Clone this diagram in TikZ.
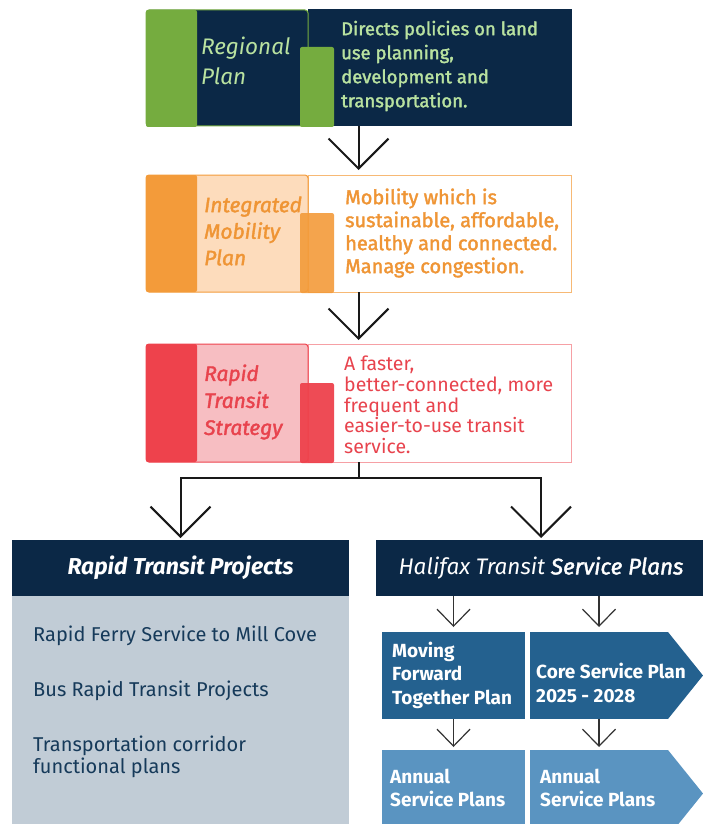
\documentclass[tikz,border=0pt]{standalone}
\usepackage{fontspec}
\setmainfont{Fira Sans}
\newfontfamily\semibold{Fira Sans}[FakeBold=1.8]
\usetikzlibrary{positioning,arrows.meta,calc}

\definecolor{navy}{HTML}{0B2846}
\definecolor{leaf}{HTML}{75AC3F}
\definecolor{leaftext}{HTML}{B9E2A0}
\definecolor{amber}{HTML}{F39B3A}
\definecolor{peach}{HTML}{FDDCBC}
\definecolor{ambertext}{HTML}{EF9535}
\definecolor{coral}{HTML}{EE424C}
\definecolor{blush}{HTML}{F7BEC2}
\definecolor{coraltext}{HTML}{E8434D}
\definecolor{slate}{HTML}{C1CCD6}
\definecolor{slatetext}{HTML}{163A5A}
\definecolor{midblue}{HTML}{24618F}
\definecolor{skyblue}{HTML}{5A94C1}

\begin{document}
\begin{tikzpicture}[x=1pt,y=-1pt,
    box/.style={inner sep=0pt, outer sep=0pt, anchor=north west},
    stripbox/.style={box, rounded corners=2pt, minimum width=51pt},
    labelbox/.style={box, rounded corners=3pt, line width=1pt, minimum width=162pt},
    descbox/.style={box, line width=1pt, minimum width=263pt},
    tabbox/.style={box, rounded corners=2pt, minimum width=34pt, minimum height=80pt},
    headbox/.style={box, fill=navy, minimum height=56pt, text=white},
    planbox/.style={box, minimum width=143pt, minimum height=87pt},
    bigarrow/.style={line width=2pt, draw=black!90, -{Straight Barb[length=30pt,width=60pt]}},
    smallarrow/.style={line width=1.2pt, draw=black!80, -{Straight Barb[length=17pt,width=33pt]}},
    desctext/.style={anchor=west, align=left, inner sep=0pt},
    labeltext/.style={anchor=west, align=left, inner sep=0pt},
    itemtext/.style={anchor=west, align=left, inner sep=0pt, text=slatetext,
        font=\fontsize{20}{22}\selectfont},
    plantext/.style={anchor=west, align=left, inner sep=0pt, text=white,
        font=\bfseries\fontsize{19}{23.5}\selectfont}]
    \useasboundingbox (0,0) rectangle (703,824);

    %Regional Plan
    \node[descbox, fill=navy, draw=navy, minimum height=116pt] (rpdesc) at (308,10) {};
    \node[labelbox, fill=navy, draw=leaf, minimum height=116pt] (rplabel) at (146,10) {};
    \node[stripbox, fill=leaf, minimum height=117pt] (rpstrip) at (146,10) {};
    \node[tabbox, fill=leaf] (rptab) at (300,47) {};
    \node[labeltext, text=leaftext, font=\itshape\fontsize{22.5}{30}\selectfont] (rptitle) at (201,61) {Regional\\Plan};
    \node[desctext, text=leaftext, font=\semibold\fontsize{18.5}{24}\selectfont] (rptext) at (341,66)
        {Directs policies on land\\use planning,\\development and\\transportation.};

    %Integrated Mobility Plan
    \node[descbox, fill=white, draw=amber!70, minimum height=117pt] (imdesc) at (308,175) {};
    \node[labelbox, fill=peach, draw=amber, minimum height=117pt] (imlabel) at (146,175) {};
    \node[stripbox, fill=amber, minimum height=117pt] (imstrip) at (146,175) {};
    \node[tabbox, fill=amber, opacity=0.9] (imtab) at (300,213) {};
    \node[labeltext, text=ambertext, font=\semibold\itshape\fontsize{21}{26.5}\selectfont] (imtitle) at (204,231)
        {Integrated\\Mobility\\Plan};
    \node[desctext, text=ambertext, font=\semibold\fontsize{20}{23}\selectfont] (imtext) at (345,233)
        {Mobility which is\\sustainable, affordable,\\healthy and connected.\\Manage congestion.};

    %Rapid Transit Strategy
    \node[descbox, fill=white, draw=coral!50, minimum height=118pt] (rtdesc) at (308,344) {};
    \node[labelbox, fill=blush, draw=coral, minimum height=118pt] (rtlabel) at (146,344) {};
    \node[stripbox, fill=coral, minimum height=118pt] (rtstrip) at (146,344) {};
    \node[tabbox, fill=coral, opacity=0.95] (rttab) at (300,383) {};
    \node[labeltext, text=coraltext, font=\semibold\itshape\fontsize{21}{27}\selectfont] (rttitle) at (204,402)
        {Rapid\\Transit\\Strategy};
    \node[desctext, text=coraltext, font=\fontsize{19.5}{20.7}\selectfont] (rttext) at (344,405)
        {A faster,\\better-connected, more\\frequent and\\easier-to-use transit\\service.};

    %Projects and service plans
    \node[box, fill=slate, minimum width=337pt, minimum height=240pt] (rtpbody) at (12,596) {};
    \node[headbox, minimum width=337pt, font=\bfseries\itshape\fontsize{23}{22}\selectfont] (rtphead) at (12,540)
        {Rapid Transit Projects};
    \node[headbox, minimum width=330pt, font=\itshape\fontsize{22.5}{22}\selectfont] (htshead) at (376,540)
        {Halifax Transit {\semibold Service Plans}};
    \node[itemtext] (ferry) at (33,636) {Rapid Ferry Service to Mill Cove};
    \node[itemtext] (brt) at (33,691) {Bus Rapid Transit Projects};
    \node[itemtext] (corridor) at (33,757) {Transportation corridor\\functional plans};

    \node[planbox, fill=midblue] (mft) at (382,632) {};
    \node[planbox, fill=midblue, minimum width=138pt] (csp) at (530,632) {};
    \fill[midblue] (csp.north east) -- (703,675.5) -- (csp.south east) -- cycle;
    \node[planbox, fill=skyblue] (asp) at (382,750) {};
    \node[planbox, fill=skyblue, minimum width=138pt] (aspcore) at (530,750) {};
    \fill[skyblue] (aspcore.north east) -- (703,793.5) -- (aspcore.south east) -- cycle;
    \node[plantext] (mfttext) at (392,675) {Moving\\Forward\\Together Plan};
    \node[plantext] (csptext) at (536,683) {Core Service Plan\\2025 - 2028};
    \node[plantext] (asptext) at (390,788) {Annual\\Service Plans};
    \node[plantext] (aspcoretext) at (540,788) {Annual\\Service Plans};

    %Arrows
    \draw[bigarrow, shorten >=5pt] ($(rpstrip.south west)!.5!(rpdesc.south east)$)
        -- ($(imstrip.north west)!.5!(imdesc.north east)$);
    \draw[bigarrow, shorten >=4pt] ($(imstrip.south west)!.5!(imdesc.south east)$)
        -- ($(rtstrip.north west)!.5!(rtdesc.north east)$);
    \draw[line width=2pt, draw=black!90] ($(rtstrip.south west)!.5!(rtdesc.south east)$) -- ++(0,16) coordinate (split);
    \draw[bigarrow, shorten >=2pt] (split) -| (rtphead.north);
    \draw[bigarrow, shorten >=2pt] (split) -| (htshead.north -| 541,0);
    \draw[smallarrow, shorten >=5pt] (mft.north |- htshead.south) -- (mft.north);
    \draw[smallarrow, shorten >=5pt] (csp.north |- htshead.south) -- (csp.north);
    \draw[smallarrow, shorten >=3pt] (mft.south) -- (asp.north);
    \draw[smallarrow, shorten >=3pt] (csp.south) -- (aspcore.north);
\end{tikzpicture}
\end{document}
